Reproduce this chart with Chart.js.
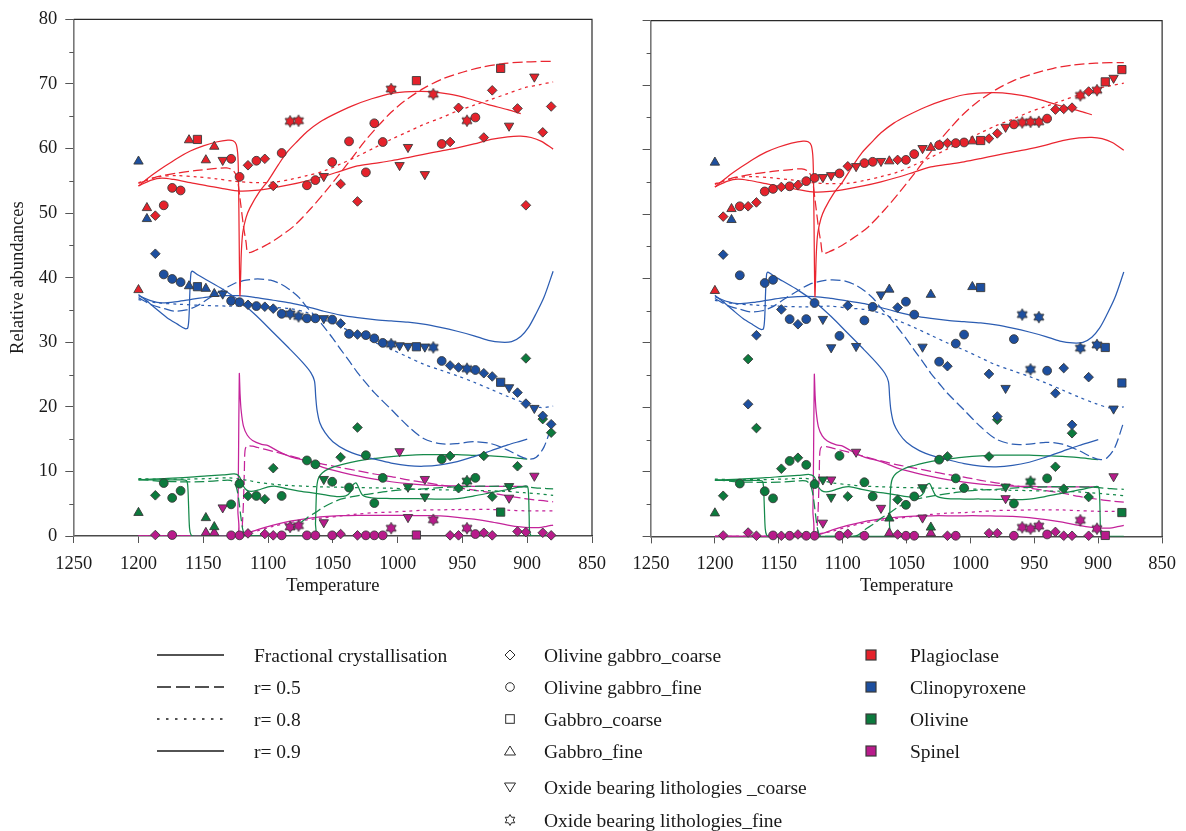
<!DOCTYPE html>
<html>
<head>
<meta charset="utf-8">
<title>Relative abundances vs temperature</title>
<script src="https://cdn.jsdelivr.net/npm/chart.js@4.4.1/dist/chart.umd.min.js"></script>
<style>
  html, body { margin: 0; padding: 0; background: #fff; width: 1186px; height: 831px; overflow: hidden; }
  #wrap { position: relative; width: 1186px; height: 831px; }
  #boxL { position: absolute; left: 0; top: 0; width: 620px; height: 600px; }
  #boxR { position: absolute; left: 600px; top: 0; width: 586px; height: 600px; }
  #legend { position: absolute; left: 0; top: 0; pointer-events: none; }
  #legend text { font-family: 'Liberation Serif', 'Times New Roman', serif; font-size: 19.5px; fill: #1a1a1a; }
</style>
</head>
<body>
<div id="wrap">
  <div id="boxL"><canvas id="chartL" width="620" height="600"></canvas></div>
  <div id="boxR"><canvas id="chartR" width="586" height="600"></canvas></div>
  <svg id="legend" width="1186" height="831" xmlns="http://www.w3.org/2000/svg"></svg>
</div>
<script>
// ---------------------------------------------------------------
// Samples: lithology code, modal mineral abundances (%) and the two
// temperature placements (left panel / right panel).
// Lithology codes: 0 ol. gabbro coarse, 1 ol. gabbro fine, 2 gabbro coarse,
// 3 gabbro fine, 4 oxide-bearing coarse, 5 oxide-bearing fine
// ---------------------------------------------------------------
const lithologyNames = [
  'Olivine gabbro_coarse', 'Olivine gabbro_fine', 'Gabbro_coarse',
  'Gabbro_fine', 'Oxide bearing lithologies _coarse', 'Oxide bearing lithologies_fine'
];
const sampleLithology = [
  3, 3, 0, 1, 1, 1, 3, 2, 3, 3,
  4, 1, 1, 0, 1, 0, 0, 1, 5, 5,
  1, 1, 4, 1, 0, 1, 0, 1, 1, 1,
  5, 4, 4, 2, 4, 5, 1, 0, 0, 5,
  1, 0, 0, 2, 4, 0, 0, 4, 0, 0
];
const tempLeft = [
  1200, 1193.5, 1187, 1180.5, 1174, 1167.5, 1161, 1154.5, 1148, 1141.5,
  1135, 1128.5, 1122, 1115.5, 1109, 1102.5, 1096, 1089.5, 1083, 1076.5,
  1070, 1063.5, 1057, 1050.5, 1044, 1037.5, 1031, 1024.5, 1018, 1011.5,
  1005, 998.5, 992, 985.5, 979, 972.5, 966, 959.5, 953, 946.5,
  940, 933.5, 927, 920.5, 914, 907.5, 901, 894.5, 888, 881.5
];
const tempRight = [
  1200, 1187, 1193.5, 1180.5, 1154.5, 1161, 998.5, 992, 1063.5, 1031,
  1070, 1050.5, 1122, 1096, 1076.5, 1057, 1148, 1044, 959.5, 946.5,
  1141.5, 1128.5, 1115.5, 1083, 1135, 1005, 1167.5, 1102.5, 966, 1011.5,
  901, 1089.5, 1037.5, 894.5, 1109, 914, 1024.5, 1018, 927, 953,
  940, 985.5, 907.5, 881.5, 972.5, 933.5, 1174, 888, 979, 920.5
];
const plagioclase = [
  38.1, 50.8, 49.6, 51.2, 53.9, 53.5, 61.3, 61.4, 58.2, 60.3,
  58.2, 58.4, 55.6, 57.4, 58.1, 58.4, 54.2, 59.3, 64.2, 64.3,
  54.3, 55.1, 55.7, 57.9, 54.5, 61.1, 51.8, 56.3, 63.9, 61.0,
  69.2, 57.4, 60.2, 70.5, 56.0, 68.4, 60.7, 61.0, 66.3, 64.3,
  64.8, 61.7, 69.0, 72.4, 63.5, 66.2, 51.2, 71.1, 62.5, 66.5
];
const clinopyroxene = [
  58.0, 49.1, 43.7, 40.5, 39.8, 39.3, 38.7, 38.6, 38.3, 37.5,
  37.5, 36.4, 36.2, 35.8, 35.6, 35.5, 35.2, 34.4, 34.4, 34.0,
  33.7, 33.7, 33.7, 33.5, 32.9, 31.3, 31.2, 31.1, 30.6, 29.9,
  29.7, 29.5, 29.4, 29.3, 29.3, 29.2, 27.1, 26.4, 26.1, 25.9,
  25.7, 25.2, 24.7, 23.8, 23.0, 22.2, 20.5, 19.8, 18.6, 17.3
];
const olivine = [
  3.6, null, 6.3, 8.2, 5.9, 7.0, null, null, 2.8, 1.4,
  null, 4.9, 8.1, 6.2, 6.2, 5.7, 10.5, 6.2, null, null,
  11.7, 11.1, 8.8, 8.4, 12.2, 7.5, 16.8, 12.5, 5.1, 9.0,
  null, null, 7.6, null, 6.1, null, 11.9, 12.4, 7.4, 8.5,
  9.0, 12.4, 6.1, 3.7, 7.7, 10.8, 27.5, null, 18.1, 16.0
];
const spinel = [
  null, null, 0.15, null, 0.15, null, null, null, 0.5, 0.5,
  4.4, 0.1, 0.1, 0.4, null, 0.3, 0.1, 0.1, 1.4, 1.6,
  0.1, 0.1, 2.1, 0.1, 0.3, null, 0.1, 0.1, 0.1, 0.1,
  1.2, 13.1, 2.9, 0.15, 8.8, 2.5, null, 0.1, 0.1, 1.2,
  0.3, 0.5, 0.1, null, 5.9, 0.7, 0.6, 9.3, 0.5, 0.1
];

const mineralNames = ['Plagioclase', 'Clinopyroxene', 'Olivine', 'Spinel'];
const mineralFill = ['#e5222b', '#1d4f9f', '#0c7a3d', '#b81b8b'];
const mineralLine = ['#ea2630', '#2c5db2', '#15894a', '#c4239a'];

// ---------------------------------------------------------------
// Model curves [temperature, abundance]
// ---------------------------------------------------------------
const modelNames = ['Fractional crystallisation', 'r= 0.5', 'r= 0.8', 'r= 0.9'];

const plagFC = [[1200,54.2],[1190,55.8],[1180,57.2],[1170,58.5],[1160,59.6],[1150,60.4],[1140,61.0],[1131,61.3],[1127,61.2],[1124.5,60.6],[1123.2,58.5],[1122.6,52],[1122.1,42],[1121.7,37.2],[1121.2,40],[1120.6,44],[1119.5,47],[1117,49.3],[1114,50.8],[1107,53.2],[1100,55.0],[1092,57.5],[1085,59.5],[1077,61.2],[1070,62.6],[1060,64.1],[1050,65.2],[1035,66.6],[1020,67.7],[1005,68.5],[990,68.8],[975,68.8],[960,68.4],[945,67.7],[930,66.8],[915,66.0],[905,65.4]];
const plagR05 = [[1200,54.6],[1186,55.6],[1170,56.2],[1155,56.6],[1140,56.9],[1132,57.0],[1127,56.6],[1124,55.5],[1121.5,52],[1119,48],[1117,45.5],[1115.5,43.9],[1110,44.2],[1100,45.2],[1090,46.5],[1080,48],[1067,50.7],[1055,53.5],[1045,56],[1035,58.6],[1025,61.2],[1015,63.5],[1005,65.6],[995,67.3],[980,69.3],[965,70.8],[950,71.8],[935,72.6],[920,73.1],[902,73.4],[880,73.5]];
const plagR08 = [[1200,54.7],[1185,55.6],[1170,55.8],[1155,55.6],[1140,55.3],[1125,54.9],[1110,54.7],[1095,54.8],[1083,55.2],[1070,55.8],[1057,56.5],[1044,57.6],[1031,58.8],[1018,60.1],[1005,61.4],[992,62.6],[980,63.7],[967,64.7],[954,65.8],[941,66.7],[928,67.6],[915,68.5],[902,69.4],[890,69.9],[880,70.3]];
const plagR09 = [[1200,54.2],[1190,55.1],[1182,55.4],[1173,55.2],[1160,54.7],[1147,54.2],[1135,53.8],[1122,53.4],[1110,53.5],[1096,53.9],[1083,54.4],[1070,55.0],[1057,55.7],[1044,56.5],[1031,57.3],[1018,57.7],[1005,58.1],[992,58.6],[980,59.1],[967,59.6],[954,60.1],[941,60.7],[928,61.4],[915,61.8],[905,61.9],[897,61.7],[889,61.1],[880,59.9]];

const cpxFC = [[1200,37.4],[1193,36.3],[1186,35.1],[1178,33.8],[1170,32.8],[1164,32.1],[1162,32.2],[1161,34],[1160.3,38],[1159.5,40.7],[1158.5,41.0],[1154,40.4],[1147,39.6],[1135,38.2],[1122,36.4],[1109,34.1],[1096,31.5],[1083,28.9],[1073,26.8],[1067,25.3],[1064.2,24.0],[1063.2,21.5],[1062.2,19.5],[1060,17.5],[1056,16.0],[1050,14.6],[1040,13.3],[1028,12.4],[1018,11.9],[1005,11.3],[992,10.9],[980,10.8],[967,11.0],[954,11.5],[941,12.3],[928,13.2],[915,14.1],[905,14.7],[900,15.0]];
const cpxR05 = [[1200,36.9],[1190,35.8],[1180,35.2],[1172,34.8],[1163,35.0],[1155,35.6],[1145,36.9],[1135,38.1],[1126,39.1],[1117,39.6],[1108,39.8],[1098,39.6],[1090,39.0],[1083,38.1],[1076,36.9],[1070,35.4],[1063,33.9],[1057,32.4],[1050,30.6],[1044,28.9],[1037,27.0],[1031,25.3],[1024,23.6],[1018,22.2],[1005,19.6],[992,17.0],[980,15.1],[967,14.3],[954,14.3],[941,14.6],[928,14.3],[915,13.3],[905,12.3],[898,11.9],[893,12.2],[887,13.8],[880,17.8]];
const cpxR08 = [[1200,36.6],[1185,36.1],[1170,35.9],[1150,35.7],[1130,35.6],[1110,35.7],[1095,35.4],[1083,35.2],[1070,34.6],[1057,33.5],[1044,32.4],[1031,31.2],[1018,30.0],[1005,28.9],[992,27.7],[980,26.6],[967,25.7],[954,24.8],[941,23.8],[928,22.7],[915,21.6],[902,20.6],[890,19.9],[880,20.1]];
const cpxR09 = [[1200,37.2],[1190,36.4],[1182,36.1],[1170,36.3],[1160,36.6],[1147,37.0],[1135,37.2],[1122,37.2],[1109,36.9],[1096,36.5],[1083,36.1],[1070,35.5],[1057,34.8],[1044,34.2],[1031,33.8],[1018,33.5],[1005,33.3],[992,33.1],[980,32.8],[967,32.3],[954,31.7],[941,31.0],[930,30.3],[920,30.0],[912,30.1],[905,30.9],[899,32.3],[893,34.5],[887,37.0],[880,41.0]];

const olFC = [[1200,8.7],[1180,8.7],[1168,8.7],[1163,8.6],[1162,7.8],[1161.3,4.5],[1160.6,1.2],[1159.5,0.2],[1157,0],[1100,0],[1064.2,0],[1063.4,2],[1062.8,6],[1062.2,8],[1061,9.0],[1058,9.8],[1052,10.5],[1044,11.0],[1036,11.4],[1026,11.8],[1018,12.0],[1005,12.3],[992,12.5],[980,12.6],[967,12.6],[954,12.6],[941,12.5],[928,12.4],[915,12.2],[905,12.0],[900,11.9]];
const olR05 = [[1200,8.8],[1185,8.5],[1170,8.4],[1150,8.4],[1135,8.6],[1129,8.6],[1126,8.2],[1124,7.2],[1122.5,5.4],[1121,3.0],[1119.5,1.0],[1117.5,0.1],[1112,0],[1092,0],[1088,0.2],[1083,1.0],[1076,1.9],[1070,2.8],[1063,3.7],[1057,4.5],[1050,5.2],[1044,5.7],[1035,6.1],[1026,6.4],[1015,6.7],[1005,7.0],[992,7.2],[980,7.3],[967,7.5],[954,7.6],[941,7.7],[928,7.7],[915,7.7],[902,7.6],[890,7.4],[880,7.3]];
const olR08 = [[1200,8.9],[1185,8.8],[1165,8.8],[1145,8.9],[1130,9.0],[1122,8.8],[1115,8.6],[1108,8.3],[1095,8.0],[1083,7.8],[1070,7.7],[1057,7.6],[1044,7.55],[1031,7.5],[1018,7.45],[1005,7.4],[992,7.3],[980,7.2],[967,7.15],[954,7.1],[941,7.05],[928,7.0],[915,6.9],[902,6.7],[890,6.5],[880,6.3]];
const olR09 = [[1200,8.7],[1180,8.9],[1160,9.1],[1147,9.3],[1135,9.45],[1126,9.6],[1122.5,9.3],[1120.5,8.5],[1119,7.7],[1116.5,7.1],[1113,6.9],[1108,7.1],[1100,7.6],[1094,7.7],[1085,7.3],[1077,7.0],[1067,6.7],[1057,6.4],[1047,6.1],[1040,6.2],[1036.5,6.8],[1034.5,7.9],[1032,8.2],[1029.5,7.2],[1027,6.3],[1020,5.9],[1005,5.8],[992,5.8],[980,5.75],[967,5.7],[954,5.8],[941,6.2],[928,6.7],[915,7.2],[905,7.6],[900,7.7],[899,6.5],[898.5,3],[898,0.5],[896,0],[880,0]];

const spFC = [[1200,0],[1160,0],[1124.5,0],[1123.3,4],[1122.8,12],[1122.2,25.1],[1121.6,22],[1120.8,19.5],[1119,17],[1116,15.6],[1112,14.8],[1105,14.2],[1100,14.0],[1092,13.1],[1083,12.3],[1070,11.6],[1057,10.6],[1044,9.9],[1031,9.3],[1018,8.8],[1005,8.4],[992,8.1],[980,7.9],[967,7.8],[954,7.75],[941,7.7],[928,7.7],[915,7.7],[900,7.7]];
const spR05 = [[1200,0],[1160,0],[1121,0],[1119.8,2],[1119,5.2],[1118.3,10],[1117.8,13.2],[1116.5,13.9],[1112,13.9],[1108,13.7],[1096,13.1],[1083,12.4],[1070,11.7],[1057,11.1],[1044,10.6],[1031,10.1],[1018,9.6],[1005,9.2],[992,8.7],[980,8.3],[967,7.9],[954,7.5],[941,7.1],[928,6.7],[915,6.2],[902,5.8],[890,5.5],[880,5.3]];
const spR08 = [[1200,0],[1160,0],[1135,0.05],[1122,0.3],[1115,0.55],[1108,0.8],[1096,1.5],[1083,2.1],[1070,2.5],[1057,2.8],[1044,3.1],[1031,3.4],[1018,3.6],[1005,3.7],[992,3.85],[980,4.0],[967,4.05],[954,4.1],[941,4.1],[928,4.1],[915,4.0],[902,3.9],[890,3.9],[880,3.9]];
const spR09 = [[1200,0],[1160,0],[1130,0.05],[1122,0.1],[1115,0.5],[1108,1.0],[1096,1.7],[1083,2.3],[1070,2.7],[1057,3.0],[1044,3.15],[1031,3.2],[1018,3.2],[1005,3.2],[992,3.2],[980,3.15],[967,3.1],[954,2.9],[941,2.6],[928,2.2],[915,1.7],[905,1.4],[898,1.3],[891,1.3],[885,1.5],[880,1.7]];

const xTicks = [1250, 1200, 1150, 1100, 1050, 1000, 950, 900, 850];
const yTicks = [0, 10, 20, 30, 40, 50, 60, 70, 80];

// ---------------------------------------------------------------
const FONT = "'Liberation Serif', 'Times New Roman', serif";
const modelDash = [[], [10, 4], [3, 4], []];
const modelCurves = [
  [plagFC, plagR05, plagR08, plagR09],
  [cpxFC, cpxR05, cpxR08, cpxR09],
  [olFC, olR05, olR08, olR09],
  [spFC, spR05, spR08, spR09]
];
const mineralValues = [plagioclase, clinopyroxene, olivine, spinel];

// six-pointed star used for the oxide-bearing fine samples
function hexagram(ctx, cx, cy, R) {
  const r = R / Math.sqrt(3);
  ctx.beginPath();
  for (let i = 0; i < 12; i++) {
    const a = -Math.PI / 2 + i * Math.PI / 6;
    const d = i % 2 === 0 ? R : r;
    const px = cx + d * Math.cos(a), py = cy + d * Math.sin(a);
    if (i === 0) ctx.moveTo(px, py); else ctx.lineTo(px, py);
  }
  ctx.closePath();
}
const starImages = mineralFill.map(col => {
  const c = document.createElement('canvas');
  c.width = 14; c.height = 14;
  const g = c.getContext('2d');
  hexagram(g, 7, 7, 5.8);
  g.fillStyle = col; g.fill();
  g.lineWidth = 0.9; g.strokeStyle = '#3a3a3a'; g.stroke();
  return c;
});

const shapeStyle = ['rectRot', 'circle', 'rect', 'triangle', 'triangle', null];
const shapeRadius = [4.8, 4.4, 5.8, 5.4, 5.4, 6];

function pointDatasets(temps) {
  return mineralValues.map((vals, m) => {
    const pts = [];
    vals.forEach((v, i) => {
      if (v !== null) pts.push({ x: temps[i], y: v, s: sampleLithology[i] });
    });
    return {
      label: mineralNames[m],
      data: pts,
      showLine: false,
      order: 1,
      clip: false,
      backgroundColor: mineralFill[m],
      borderColor: '#3a3a3a',
      borderWidth: 0.9,
      pointStyle: c => (c.raw ? (c.raw.s === 5 ? starImages[m] : shapeStyle[c.raw.s]) : 'circle'),
      pointRotation: c => (c.raw && c.raw.s === 4 ? 180 : 0),
      pointRadius: c => (c.raw ? shapeRadius[c.raw.s] : 4),
      pointBackgroundColor: mineralFill[m],
      pointBorderColor: '#3a3a3a',
      pointBorderWidth: 0.9
    };
  });
}

function curveDatasets() {
  const out = [];
  modelCurves.forEach((set, m) => {
    set.forEach((curve, k) => {
      out.push({
        label: mineralNames[m] + ' ' + modelNames[k],
        data: curve.map(p => ({ x: p[0], y: p[1] })),
        showLine: true,
        order: 2,
        borderColor: mineralLine[m],
        borderWidth: 1.25,
        borderDash: modelDash[k],
        pointRadius: 0,
        tension: 0.3,
        fill: false
      });
    });
  });
  return out;
}

// frame on top/right and minor y ticks
const framePlugin = {
  id: 'frame',
  beforeDatasetsDraw(chart) {
    const { ctx, chartArea: a, scales } = chart;
    ctx.save();
    ctx.strokeStyle = '#2a2a2a';
    ctx.lineWidth = 1.2;
    ctx.beginPath();
    ctx.moveTo(a.left, a.top); ctx.lineTo(a.right, a.top); ctx.lineTo(a.right, a.bottom);
    ctx.stroke();
    ctx.strokeStyle = '#555';
    ctx.lineWidth = 1;
    for (let v = 5; v < 80; v += 10) {
      const y = Math.round(scales.y.getPixelForValue(v)) + 0.5;
      ctx.beginPath(); ctx.moveTo(a.left - 4.4, y); ctx.lineTo(a.left, y); ctx.stroke();
    }
    ctx.restore();
  }
};

function makeChart(id, temps, showYLabels, yWidth, padding) {
  return new Chart(document.getElementById(id), {
    type: 'scatter',
    data: { datasets: [...pointDatasets(temps), ...curveDatasets()] },
    options: {
      responsive: false,
      animation: false,
      events: [],
      layout: { padding },
      plugins: { legend: { display: false }, tooltip: { enabled: false } },
      scales: {
        x: {
          type: 'linear', reverse: true, min: 850, max: 1250,
          afterBuildTicks: s => { s.ticks = xTicks.map(v => ({ value: v })); },
          afterFit: s => { s.height = 61.2; },
          ticks: { color: '#1a1a1a', font: { family: FONT, size: 18.5 }, padding: 10, maxRotation: 0, autoSkip: false, callback: v => String(v) },
          grid: { drawOnChartArea: false, drawTicks: true, tickLength: 7, color: '#555', lineWidth: 1 },
          border: { display: true, color: '#4a4a4a', width: 1.5 },
          title: { display: true, text: 'Temperature', color: '#1a1a1a', font: { family: FONT, size: 18.5 }, padding: { top: 0, bottom: 0 } }
        },
        y: {
          type: 'linear', min: 0, max: 80,
          afterBuildTicks: s => { s.ticks = yTicks.map(v => ({ value: v })); },
          afterFit: s => { s.width = yWidth; },
          ticks: { display: showYLabels, color: '#1a1a1a', font: { family: FONT, size: 18.5 }, padding: 8, callback: v => String(v) },
          grid: { drawOnChartArea: false, drawTicks: true, tickLength: 8.4, color: '#555', lineWidth: 1 },
          border: { display: true, color: '#777', width: 1.6 },
          title: { display: showYLabels, text: 'Relative abundances', color: '#1a1a1a', font: { family: FONT, size: 18.5 }, padding: { top: 7, bottom: 0 } }
        }
      }
    },
    plugins: [framePlugin]
  });
}

makeChart('chartL', tempLeft, true, 73.7, { left: 0, right: 28, top: 19.3, bottom: 2.8 });
makeChart('chartR', tempRight, false, 51, { left: 0, right: 18.5, top: 20.6, bottom: 2.4 });

// ---------------------------------------------------------------
// Legend
// ---------------------------------------------------------------
const NS = 'http://www.w3.org/2000/svg';
const svg = document.getElementById('legend');
function el(tag, attrs) {
  const e = document.createElementNS(NS, tag);
  for (const k in attrs) e.setAttribute(k, attrs[k]);
  svg.appendChild(e);
  return e;
}
function label(x, y, str) {
  const t = el('text', { x, y, 'dominant-baseline': 'central' });
  t.textContent = str;
}

const lineRows = [655, 687, 719, 751];
const legendDash = ['', '14 5', '2.5 6.5', ''];
modelNames.forEach((name, k) => {
  const y = lineRows[k];
  const attrs = { x1: 157, x2: 224, y1: y, y2: y, stroke: '#1a1a1a', 'stroke-width': 1.4 };
  if (legendDash[k]) attrs['stroke-dasharray'] = legendDash[k];
  el('line', attrs);
  label(254, y, name);
});

const symRows = [655, 687, 719, 751, 787, 820];
const sx = 510;
const symStroke = { fill: 'none', stroke: '#2a2a2a', 'stroke-width': 1 };
lithologyNames.forEach((name, k) => {
  const y = symRows[k];
  if (k === 0) el('polygon', { points: `${sx},${y - 5} ${sx + 5},${y} ${sx},${y + 5} ${sx - 5},${y}`, ...symStroke });
  if (k === 1) el('circle', { cx: sx, cy: y, r: 4.3, ...symStroke });
  if (k === 2) el('rect', { x: sx - 4.3, y: y - 4.3, width: 8.6, height: 8.6, ...symStroke });
  if (k === 3) el('polygon', { points: `${sx},${y - 5} ${sx + 5.5},${y + 4} ${sx - 5.5},${y + 4}`, ...symStroke });
  if (k === 4) el('polygon', { points: `${sx},${y + 5} ${sx + 5.5},${y - 4} ${sx - 5.5},${y - 4}`, ...symStroke });
  if (k === 5) {
    const R = 5.5, r = R / Math.sqrt(3);
    const pts = [];
    for (let i = 0; i < 12; i++) {
      const a = -Math.PI / 2 + i * Math.PI / 6;
      const d = i % 2 === 0 ? R : r;
      pts.push((sx + d * Math.cos(a)).toFixed(2) + ',' + (y + d * Math.sin(a)).toFixed(2));
    }
    el('polygon', { points: pts.join(' '), ...symStroke });
  }
  label(544, y, name);
});

mineralNames.forEach((name, m) => {
  const y = lineRows[m];
  el('rect', { x: 866, y: y - 5, width: 10, height: 10, fill: mineralFill[m], stroke: '#3a3a3a', 'stroke-width': 1.2 });
  label(910, y, name);
});
</script>
</body>
</html>
